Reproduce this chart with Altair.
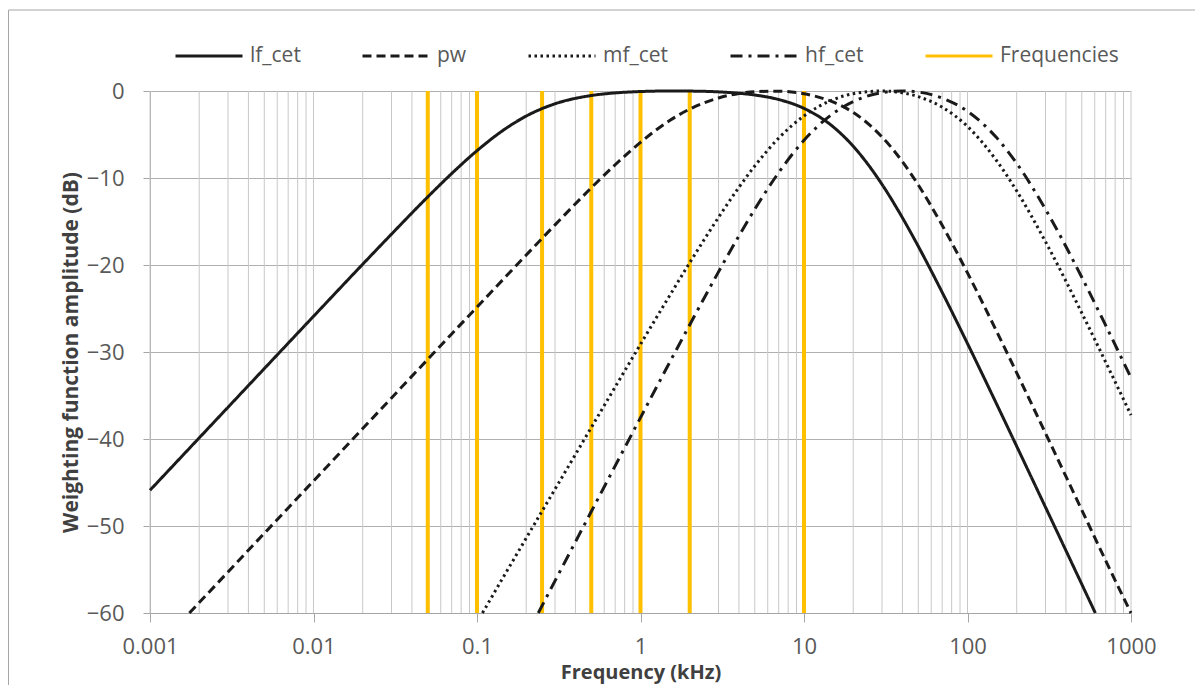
import altair as alt
import pandas as pd

# ---- data ----
lf_freq = [0.001, 0.002, 0.003, 0.005, 0.01, 0.02, 0.03, 0.05, 0.07, 0.1, 0.15, 0.2, 0.3, 0.5, 0.7,
           1, 1.5, 2, 3, 4, 5, 7, 10, 15, 20, 30, 40, 50, 70, 100, 150, 200, 300, 400, 500, 605]
lf_db = [-45.89, -39.87, -36.35, -31.91, -25.90, -19.91, -16.45, -12.17, -9.49, -6.86, -4.31, -2.88,
         -1.47, -0.52, -0.22, -0.06, 0.00, -0.01, -0.10, -0.26, -0.46, -0.98, -2.00, -4.08, -6.35,
         -10.73, -14.57, -17.85, -23.14, -29.03, -35.90, -40.84, -47.84, -52.82, -56.69, -60.0]

pw_freq = [0.00174, 0.002, 0.003, 0.005, 0.01, 0.02, 0.03, 0.05, 0.07, 0.1, 0.15, 0.2, 0.3, 0.5, 0.7,
           1, 1.5, 2, 3, 4, 5, 7, 10, 15, 20, 30, 40, 50, 70, 100, 150, 200, 300, 500, 700, 1000]
pw_db = [-60.0, -58.80, -55.28, -50.84, -44.83, -38.80, -35.28, -30.84, -27.92, -24.84, -21.33, -18.85,
         -15.39, -11.13, -8.48, -5.90, -3.42, -2.08, -0.80, -0.28, -0.07, -0.02, -0.32, -1.26, -2.47,
         -5.28, -8.12, -10.80, -15.43, -20.91, -27.55, -32.40, -39.34, -48.16, -53.98, -60.0]

mf_freq = [0.108, 0.15, 0.2, 0.3, 0.5, 0.7, 1, 1.5, 2, 3, 4, 5, 7, 10, 15, 20, 30, 40, 50, 70, 100,
           150, 200, 300, 500, 700, 1000]
mf_db = [-60.0, -55.39, -51.39, -45.77, -38.68, -34.02, -29.11, -23.59, -19.74, -14.53, -11.07, -8.62,
         -5.42, -2.86, -1.01, -0.31, 0.0, -0.21, -0.65, -1.86, -4.08, -7.96, -11.49, -17.33, -25.51,
         -31.16, -37.25]

hf_freq = [0.237, 0.3, 0.5, 0.7, 1, 1.5, 2, 3, 4, 5, 7, 10, 15, 20, 30, 40, 50, 70, 100, 150, 200,
           300, 500, 700, 1000]
hf_db = [-60.0, -56.31, -48.34, -43.09, -37.54, -31.27, -26.87, -20.79, -16.65, -13.59, -9.38, -5.66,
         -2.61, -1.22, -0.19, 0.0, -0.12, -0.81, -2.33, -5.33, -8.32, -13.60, -21.41, -26.94, -32.96]

marker_freqs = [0.05, 0.1, 0.25, 0.5, 1, 2, 10]

series_names = ["lf_cet", "pw", "mf_cet", "hf_cet", "Frequencies"]
series_colors = ["#1a1a1a", "#1a1a1a", "#1a1a1a", "#1a1a1a", "#FFC000"]
series_dash = [[1, 0], [9, 5], [2.5, 3.5], [12, 6, 3, 6], [1, 0]]

decades = [0.001, 0.01, 0.1, 1, 10, 100, 1000]
y_ticks = [-60, -50, -40, -30, -20, -10, 0]

# ---- tables ----
rows = []
for name, fr, db in [("lf_cet", lf_freq, lf_db), ("pw", pw_freq, pw_db),
                     ("mf_cet", mf_freq, mf_db), ("hf_cet", hf_freq, hf_db)]:
    rows += [{"series": name, "freq": f, "db": d} for f, d in zip(fr, db)]
curves = pd.DataFrame(rows)
markers = pd.DataFrame({"freq": marker_freqs, "series": ["Frequencies"] * len(marker_freqs)})
minor = [round(m * d, 6) for d in decades[:-1] for m in range(1, 10)] + [1000]
grid_df = pd.DataFrame({"freq": minor})

FONT = "Open Sans"
xscale = alt.Scale(type="log", domain=[0.001, 1000], nice=False)
yscale = alt.Scale(domain=[-60, 0], nice=False)

xaxis = alt.Axis(values=decades, format="~g", grid=False, tickSize=9, tickColor="#A6A6A6",
                 domainColor="#A6A6A6", labelFont=FONT, labelFontSize=22, labelColor="#595959",
                 labelPadding=14, labelFlush=False, labelOverlap=False,
                 title="Frequency (kHz)", titleFont=FONT, titleFontSize=20, titleFontWeight="bold",
                 titleColor="#404040", titlePadding=5)
yaxis = alt.Axis(values=y_ticks, grid=True, gridColor="#B0B0B0", tickSize=7, tickColor="#A6A6A6",
                 domainColor="#A6A6A6", labelFont=FONT, labelFontSize=22, labelColor="#595959",
                 labelPadding=19, labelFlush=False, labelOverlap=False,
                 title="Weighting function amplitude (dB)", titleFont=FONT, titleFontSize=21,
                 titleFontWeight="bold", titleColor="#404040", titlePadding=5)

legend = alt.Legend(orient="none", legendX=24, legendY=-70, direction="horizontal", columns=5,
                    symbolType="stroke", symbolSize=4489, symbolStrokeWidth=3,
                    labelFont=FONT, labelFontSize=21, labelColor="#595959", labelOffset=6,
                    columnPadding=55, title=None)

color = alt.Color("series:N", scale=alt.Scale(domain=series_names, range=series_colors),
                  legend=legend, title=None)
dash = alt.StrokeDash("series:N", scale=alt.Scale(domain=series_names, range=series_dash),
                      legend=legend, title=None)

X = alt.X("freq:Q", scale=xscale, axis=xaxis)
Y = alt.Y("db:Q", scale=yscale, axis=yaxis)

border = alt.Chart(pd.DataFrame({"k": [0]})).mark_rect(
    filled=False, stroke="#A6A6A6", strokeWidth=1).encode(
    x=alt.value(-141.5), x2=alt.value(1300), y=alt.value(-81), y2=alt.value(800))

grid = alt.Chart(grid_df).mark_rule(color="#C8C8C8", strokeWidth=1).encode(x=X)

marks = alt.Chart(markers).mark_rule(strokeWidth=4).encode(x=X, color=color, strokeDash=dash)

lines = alt.Chart(curves).mark_line(strokeWidth=3, interpolate="monotone").encode(
    x=X, y=Y, color=color, strokeDash=dash)

chart = alt.layer(border, grid, marks, lines).properties(
    width=981, height=522,
    autosize=alt.AutoSizeParams(type="none"),
    padding={"left": 142, "top": 83, "right": 64, "bottom": 72},
    background="white",
).configure_view(stroke=None)

chart.save("out.html", embed_options={"renderer": "svg", "actions": False})
